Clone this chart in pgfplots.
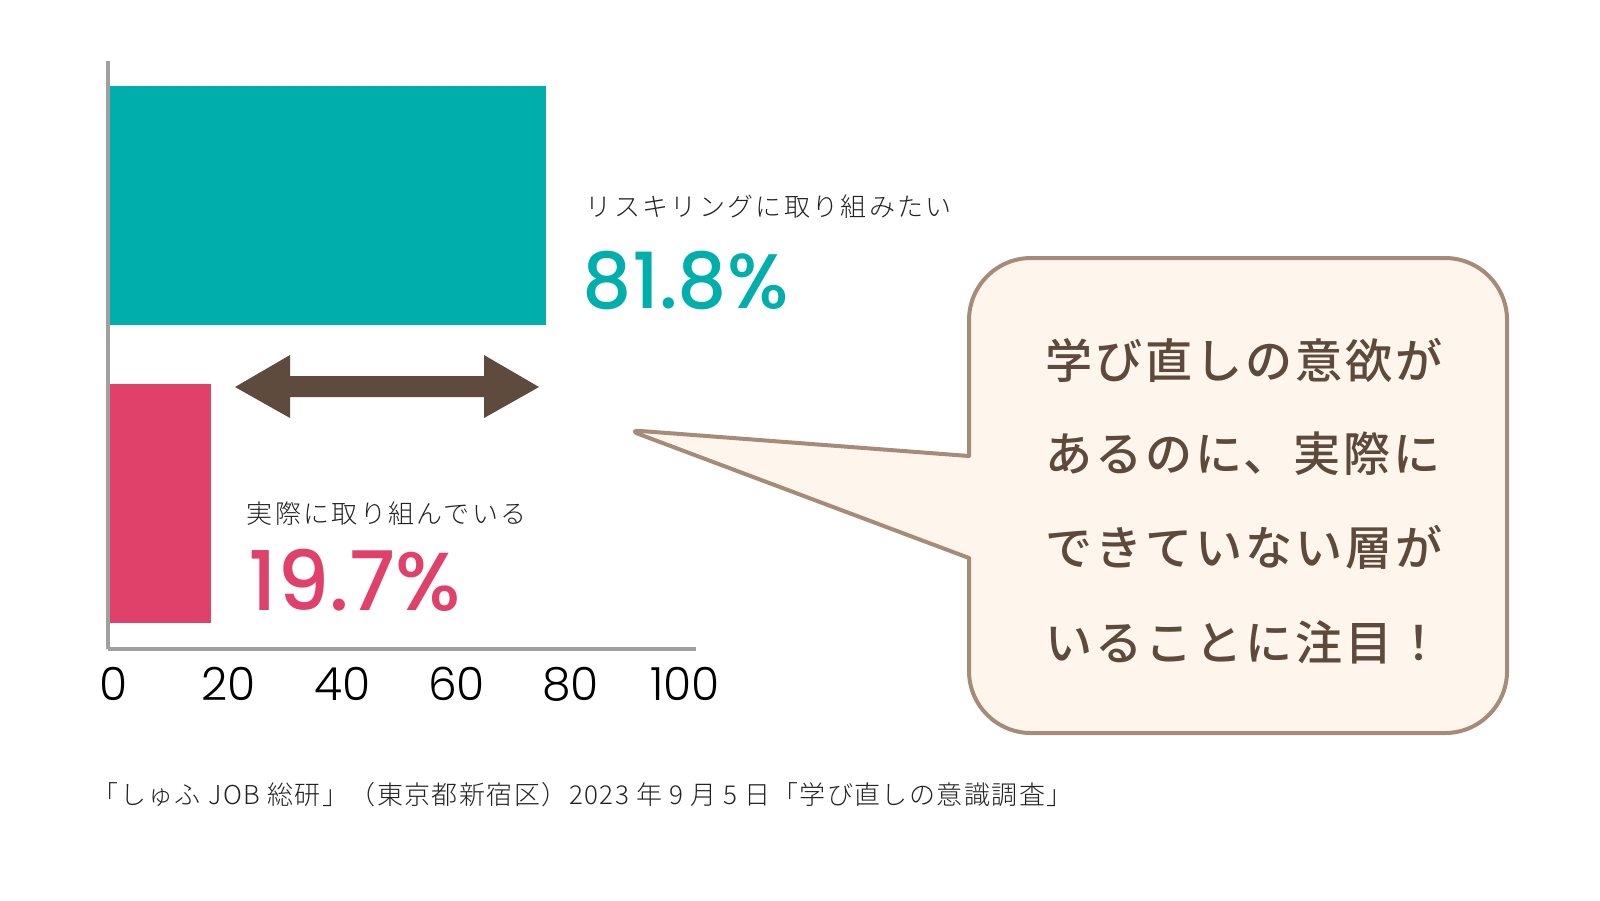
\documentclass[border=0pt]{standalone}
\usepackage{fontspec}
\setmainfont{Poppins}
\IfFontExistsTF{Poppins Light}{\newfontfamily\popl{Poppins Light}}{\newfontfamily\popl{Poppins}}
\IfFontExistsTF{Poppins Medium}{\newfontfamily\popm{Poppins Medium}}{\newfontfamily\popm{Poppins}[FakeBold=1.5]}
\IfFontExistsTF{Noto Sans CJK JP Light}
  {\newfontfamily\jp{Noto Sans CJK JP Light}[LetterSpace=9]
   \newfontfamily\jpc{Noto Sans CJK JP Light}[LetterSpace=5.5]}
  {\newfontfamily\jp{Noto Sans CJK JP}[LetterSpace=9]
   \newfontfamily\jpc{Noto Sans CJK JP}[LetterSpace=5.5]}
\IfFontExistsTF{Noto Sans CJK JP Medium}
  {\newfontfamily\jpb{Noto Sans CJK JP Medium}[LetterSpace=6]}
  {\newfontfamily\jpb{Noto Sans CJK JP Bold}[LetterSpace=6]}
\usepackage{pgfplots}
\pgfplotsset{compat=1.18}

\definecolor{tealc}{HTML}{00AFAC}
\definecolor{pinkc}{HTML}{E0416A}
\definecolor{arrowc}{HTML}{5F4B3D}
\definecolor{axisc}{HTML}{A0A0A0}
\definecolor{bubfill}{HTML}{FEF6EC}
\definecolor{bubline}{HTML}{A68C78}
\definecolor{bubtext}{HTML}{5E4A3C}
\definecolor{labc}{HTML}{222222}

\begin{document}
\begin{tikzpicture}
\useasboundingbox (0,0) rectangle (160mm,-90mm);

\begin{axis}[
    at={(10.8mm,-64.9mm)}, anchor=south west,
    scale only axis,
    width=58.8mm, height=58.8mm,
    xmin=0, xmax=103, ymin=0, ymax=588,
    enlargelimits=false,
    xbar,
    axis x line=bottom, axis y line=left,
    axis line style={-, draw=axisc, line width=0.4mm},
    axis on top,
    xtick={0,20,40,60,80,100}, ytick=\empty,
    major tick length=0pt,
    xticklabel style={font=\popl\fontsize{13}{13}\selectfont, text=black, xshift=0.6mm, yshift=-0.6mm},
    /pgf/number format/assume math mode=true,
    clip=false,
]
% bar lengths as drawn against the axis
\addplot[fill=tealc, draw=none, bar width=239, bar shift=0] coordinates {(76.7,443.5)};
\addplot[fill=pinkc, draw=none, bar width=239, bar shift=0] coordinates {(18.0,145.5)};
\end{axis}

\begin{scope}[x=0.1mm, y=-0.1mm]
% double arrow
\fill[arrowc] (235,387) -- (290,355) -- (290,376) -- (484,376) -- (484,355) -- (539,387)
  -- (484,418) -- (484,397) -- (290,397) -- (290,418) -- cycle;

% labels
\node[anchor=base west, inner sep=0pt, text=labc] at (585,216)
  {\jp\fontsize{7.4}{7.4}\selectfont リスキリングに取り組みたい};
\node[anchor=base west, inner sep=0pt, text=tealc] at (582,308)
  {\popm\fontsize{22}{22}\selectfont 81.8\%};
\node[anchor=base west, inner sep=0pt, text=labc] at (246,523)
  {\jp\fontsize{7.4}{7.4}\selectfont 実際に取り組んでいる};
\node[anchor=base west, inner sep=0pt, text=pinkc] at (248,610)
  {\popm\fontsize{23.4}{23.4}\selectfont 19.7\%};

% speech bubble
\filldraw[fill=bubfill, draw=bubline, line width=0.4mm, rounded corners=6.2mm]
  (969,258) rectangle (1507,733);
\fill[bubfill] (636,430) -- (973,456) -- (973,558) -- cycle;
\draw[bubline, line width=0.4mm, line join=round, line cap=round, rounded corners=1.2mm]
  (969,456) -- (628,430) -- (969,558);

\begin{scope}[every node/.style={anchor=base west, inner sep=0pt, text=bubtext}]
\node at (1045,378) {\jpb\fontsize{13.4}{13.4}\selectfont 学び直しの意欲が};
\node at (1045,471) {\jpb\fontsize{13.4}{13.4}\selectfont あるのに、実際に};
\node at (1045,565) {\jpb\fontsize{13.4}{13.4}\selectfont できていない層が};
\node at (1045,660) {\jpb\fontsize{13.4}{13.4}\selectfont いることに注目！};
\end{scope}

% source
\node[anchor=base west, inner sep=0pt, text=labc] at (92,804)
  {\jpc\fontsize{7.4}{7.4}\selectfont 「しゅふ JOB 総研」（東京都新宿区）2023 年 9 月 5 日「学び直しの意識調査」};
\end{scope}
\end{tikzpicture}
\end{document}
